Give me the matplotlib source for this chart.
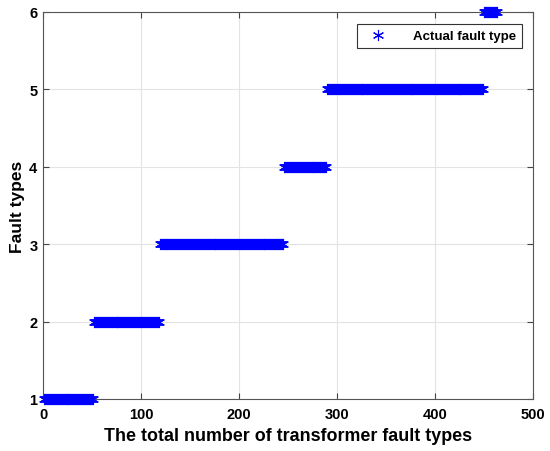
import matplotlib
matplotlib.use("Agg")
import matplotlib.pyplot as plt
import numpy as np

# fault classes and the sample index range each one covers
FAULT_TYPES = [1, 2, 3, 4, 5, 6]
START_INDEX = [1, 52, 119, 246, 290, 450]
END_INDEX = [51, 118, 245, 289, 449, 463]

X_TICKS = [0, 100, 200, 300, 400, 500]
Y_TICKS = [1, 2, 3, 4, 5, 6]

plt.rcParams["font.family"] = ["Liberation Sans", "DejaVu Sans"]
plt.rcParams["font.weight"] = "bold"

sample_idx = np.concatenate([np.arange(s, e + 1) for s, e in zip(START_INDEX, END_INDEX)])
labels = np.concatenate(
    [np.full(e - s + 1, t) for t, s, e in zip(FAULT_TYPES, START_INDEX, END_INDEX)]
)

fig = plt.figure(figsize=(5.5, 4.52), dpi=100)
ax = fig.add_axes([43 / 550, 52 / 452, 490 / 550, 387 / 452])

ax.plot(sample_idx, labels, linestyle="none", marker=(6, 2, 0), markersize=8,
        markeredgewidth=0.8, color="#0000ff", label="Actual fault type",
        clip_on=False, zorder=3)

ax.set_xlim(0, 500)
ax.set_ylim(1, 6)
ax.set_xticks(X_TICKS)
ax.set_yticks(Y_TICKS)
ax.grid(True, color="#e3e3e3", linewidth=0.8)
ax.set_axisbelow(True)
ax.tick_params(direction="in", top=True, right=True, length=4, width=0.8,
               color="#444444", labelsize=10.5)
ax.tick_params(axis="x", pad=6)
ax.tick_params(axis="y", pad=4)
for lbl in ax.get_xticklabels() + ax.get_yticklabels():
    lbl.set_fontweight("bold")
for sp in ax.spines.values():
    sp.set_color("#555555")
    sp.set_linewidth(0.8)

ax.set_xlabel("The total number of transformer fault types", fontsize=12.9,
              fontweight="bold", labelpad=4)
ax.set_ylabel("Fault types", fontsize=12.5, fontweight="bold", labelpad=3)

leg = ax.legend(loc="upper right", bbox_to_anchor=(0.978, 0.969), fontsize=9.5,
                frameon=True, fancybox=False, framealpha=1, borderpad=0.45,
                handletextpad=1.6, handlelength=2.2, borderaxespad=0)
leg.get_frame().set_edgecolor("#333333")
leg.get_frame().set_linewidth(0.8)
for t in leg.get_texts():
    t.set_fontweight("bold")

fig.savefig("out.png", dpi=100)
